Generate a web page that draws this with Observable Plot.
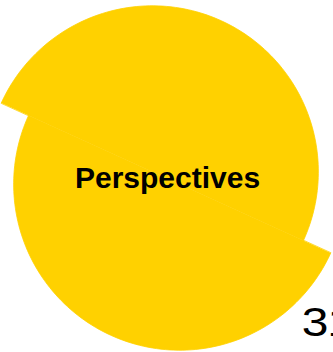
<!DOCTYPE html>
<html>
<head>
<meta charset="utf-8">
<script src="https://cdn.jsdelivr.net/npm/d3@7"></script>
<script src="https://cdn.jsdelivr.net/npm/@observablehq/plot@0.6"></script>
<style>
  html, body { margin: 0; padding: 0; background: #fff; overflow: hidden; }
</style>
</head>
<body>
<script>
// ---- data ----
const segments = ["upper", "lower"];
const shares = [50, 50];
const centerLabel = "Perspectives";
const cornerLabel = "31";

// ---- geometry (style/layout, not data) ----
const W = 333, H = 352;
const cx = 165.5, cy = 177.5;      // pixel centre of the shape
const R = 166;                      // radius of each half
const shift = 15;                   // offset of each half along its start ray
const startDeg = -65.5;             // d3 angle convention: 0 = 12 o'clock, clockwise
const fillColor = "#FFD100";

const arcs = d3.pie().sort(null).value(d => d)
  .startAngle(startDeg * Math.PI / 180)
  .endAngle(startDeg * Math.PI / 180 + 2 * Math.PI)(shares);

const pts = [];
arcs.forEach((a, i) => {
  const ox = shift * Math.sin(a.startAngle);
  const oy = -shift * Math.cos(a.startAngle);
  const n = 120;
  for (let k = 0; k <= n; k++) {
    const t = a.startAngle + (a.endAngle - a.startAngle) * k / n;
    pts.push({seg: segments[i], x: ox + R * Math.sin(t), y: oy - R * Math.cos(t)});
  }
});

const chart = Plot.plot({
  width: W,
  height: H,
  margin: 0,
  x: {domain: [-cx, W - cx], range: [0, W], axis: null},
  y: {domain: [-cy, H - cy], range: [0, H], axis: null},
  style: {background: "#fff", fontFamily: "'Liberation Sans', Arial, sans-serif"},
  marks: [
    Plot.line(pts, {x: "x", y: "y", z: "seg", fill: fillColor, stroke: fillColor,
      strokeWidth: 0.8, curve: "linear-closed"}),
    Plot.text([centerLabel], {x: [1.5], y: [10], text: d => d, lineAnchor: "bottom",
      textAnchor: "middle", fontSize: 30, fontWeight: "bold", fill: "#000"}),
    Plot.text([cornerLabel], {x: [135.8], y: [158], text: d => d, lineAnchor: "bottom",
      textAnchor: "start", fontSize: 40, fontWeight: "normal", fill: "#000"})
  ]
});
d3.select(chart).selectAll("text")
  .filter(function() { return this.textContent === cornerLabel; })
  .each(function() {
    const sel = d3.select(this);
    sel.attr("letter-spacing", -1);
    const x0 = 301.3;
    const prev = sel.attr("transform") || "";
    sel.attr("transform", `translate(${x0},0) scale(1.2,1) translate(${-x0},0) ${prev}`);
  });
document.body.appendChild(chart);
</script>
</body>
</html>
